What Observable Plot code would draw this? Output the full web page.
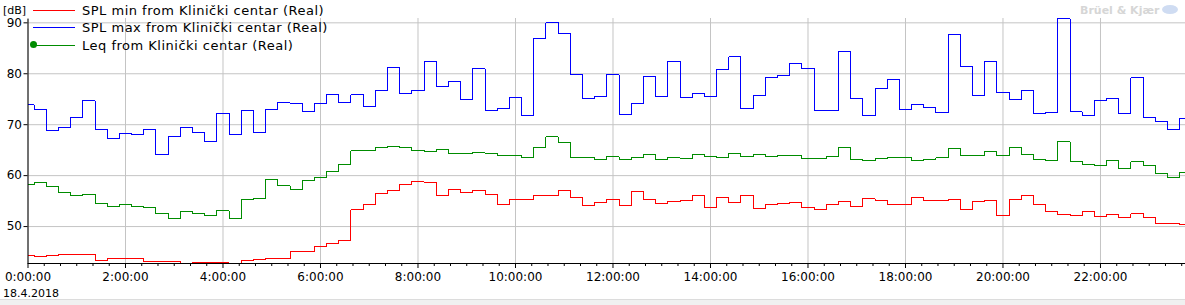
<!DOCTYPE html>
<html>
<head>
<meta charset="utf-8">
<script src="https://cdn.jsdelivr.net/npm/d3@7"></script>
<script src="https://cdn.jsdelivr.net/npm/@observablehq/plot@0.6"></script>
<style>
  html, body { margin: 0; padding: 0; background: #fff; }
  #wrap { position: relative; width: 1185px; height: 305px; overflow: hidden; background: #fff; }
  .ov { position: absolute; font-family: "DejaVu Sans", sans-serif; font-size: 11px; color: #000; white-space: nowrap; line-height: 1; }
  .lg { position: absolute; height: 0; border-top: 1px solid; width: 42px; left: 33px; }
  #foot { position: absolute; left: 0; top: 299px; width: 1185px; height: 6px; background: #f0f0f0; border-top: 1px solid #dcdcdc; }
</style>
</head>
<body>
<div id="wrap"></div>
<script>
// 15-minute intervals starting 18.4.2018 0:00:00
const startDate = "2018-04-18T00:00:00Z";
const intervalMinutes = 15;

const splMin = [44.4,44.2,44.4,44.6,44.6,44.6,43.4,43.7,43.7,43.7,43.1,43.1,43.1,42.75,42.9,42.9,
  42.9,42.75,43.3,43.5,43.7,43.7,45.1,45.1,46.1,46.7,47.3,53.3,54.3,56.5,57.1,58.2,
  58.8,58.6,56.1,57.3,56.7,57.1,56.3,54.3,55.3,55.3,56.1,56.1,57.1,55.7,54.1,54.7,
  55.3,54.1,56.9,55.4,54.5,54.9,55.1,56.1,53.7,55.7,54.7,56.1,53.5,54.3,54.5,54.7,
  53.7,53.3,54.3,54.9,53.9,55.5,55.1,54.3,54.3,55.7,55.1,55.1,55.3,53.3,54.9,55.1,
  52.2,55.3,56.1,54.3,52.9,52.4,52.2,52.9,52.0,52.4,51.8,52.5,51.8,50.6,50.6,50.4];

const splMax = [73.9,72.9,68.8,69.4,71.4,74.7,69.0,67.3,68.3,68.1,69.0,64.1,67.6,69.4,68.4,66.7,
  72.2,68.1,72.7,68.4,72.9,74.3,74.1,72.5,74.1,75.9,74.3,75.9,73.5,76.7,81.2,76.1,
  76.7,82.5,77.5,78.4,74.9,81.0,72.7,73.1,75.3,71.8,86.9,90.0,88.0,79.8,75.1,75.5,
  79.8,72.0,74.1,79.4,75.5,82.4,75.3,76.1,75.5,80.8,83.3,73.1,75.7,79.2,79.6,82.0,
  81.0,72.7,72.7,84.3,75.1,71.8,77.1,78.8,72.9,73.9,73.3,72.4,87.8,81.4,75.7,82.5,
  76.3,74.9,76.7,72.2,72.4,90.8,72.5,71.8,74.7,75.1,72.2,79.2,71.4,70.6,69.0,71.2];

const leq = [58.2,58.6,57.8,56.7,56.1,56.3,54.5,53.9,54.3,53.9,53.7,52.5,51.6,52.9,52.5,52.2,
  53.1,51.6,55.3,55.5,59.2,58.0,57.3,59.0,59.6,60.8,62.2,64.9,64.9,65.5,65.7,65.5,
  64.9,64.8,65.1,64.4,64.4,64.5,64.3,63.9,63.9,63.5,65.5,67.6,66.5,63.5,63.5,63.1,
  63.7,63.1,63.5,64.1,63.1,63.5,63.3,64.1,63.7,63.5,64.3,63.7,64.1,63.7,63.9,63.9,
  63.3,63.3,63.7,65.5,63.1,62.9,63.3,63.5,63.5,62.9,63.1,63.5,65.3,63.9,63.9,64.7,
  63.9,65.5,64.1,63.1,62.9,66.7,62.7,62.2,62.0,62.9,61.4,62.7,62.0,60.4,59.6,60.6];

const seriesNames = ["SPL min from Klinički centar (Real)", "SPL max from Klinički centar (Real)", "Leq from Klinički centar (Real)"];
const seriesColors = ["#ff0000", "#0000ff", "#008c00"];
const yTicks = [50, 60, 70, 80, 90];
const dateLabel = "18.4.2018";
const unitLabel = "[dB]";
const brand = "Brüel & Kjær";

const t0 = new Date(startDate);
const times = splMin.map((_, i) => new Date(+t0 + i * intervalMinutes * 60000));
const rows = (vals) => vals.map((v, i) => ({time: times[i], value: v}));
const xEnd = new Date(+t0 + 23.744 * 3600000);
const majorTicks = d3.utcHour.every(2).range(t0, xEnd);
const minorTicks = d3.utcMinute.every(20).range(t0, xEnd).filter(d => d.getUTCMinutes() !== 0 || d.getUTCHours() % 2 !== 0);
const yMin = 42.75, yMax = 90.85;

const chart = Plot.plot({
  width: 1185,
  height: 299,
  marginLeft: 27.5,
  marginRight: 0,
  marginTop: 18,
  marginBottom: 36,
  style: {fontFamily: "DejaVu Sans, sans-serif", fontSize: "12px", color: "#000", background: "#fff", overflow: "visible"},
  x: {type: "utc", domain: [t0, xEnd]},
  y: {domain: [yMin, yMax]},
  marks: [
    Plot.gridY(yTicks, {stroke: "#c4c4c4", strokeOpacity: 1}),
    Plot.gridX(majorTicks, {stroke: "#c4c4c4", strokeOpacity: 1}),
    Plot.line(rows(splMin), {x: "time", y: "value", curve: "step", stroke: seriesColors[0], strokeWidth: 1, shapeRendering: "crispEdges"}),
    Plot.line(rows(splMax), {x: "time", y: "value", curve: "step", stroke: seriesColors[1], strokeWidth: 1, shapeRendering: "crispEdges"}),
    Plot.line(rows(leq), {x: "time", y: "value", curve: "step", stroke: seriesColors[2], strokeWidth: 1, shapeRendering: "crispEdges"}),
    Plot.ruleY([yMin], {stroke: "#000"}),
    Plot.ruleX([t0], {y1: yMin, y2: 90.7, stroke: "#000"}),
    Plot.axisX(majorTicks, {tickSize: 5, tickPadding: 4, tickFormat: d3.utcFormat("%-H:%M:%S"), label: null, stroke: "#000"}),
    Plot.axisX(minorTicks, {tickSize: 3, tickFormat: () => "", label: null, stroke: "#000"}),
    Plot.axisY(yTicks, {tickSize: 4, tickPadding: 2, label: null, stroke: "#000"})
  ]
});

const wrap = document.getElementById("wrap");
wrap.appendChild(chart);

function addText(txt, left, top, extra) {
  const d = document.createElement("div");
  d.className = "ov";
  d.textContent = txt;
  d.style.left = left + "px";
  d.style.top = top + "px";
  if (extra) Object.assign(d.style, extra);
  wrap.appendChild(d);
  return d;
}
addText(unitLabel, 3, 5, {fontSize: "11px"});
seriesNames.forEach((name, i) => {
  const y = 10 + i * 17.3;
  const l = document.createElement("div");
  l.className = "lg";
  l.style.top = Math.round(y) + "px";
  l.style.borderColor = seriesColors[i];
  wrap.appendChild(l);
  addText(name, 82, Math.round(y) - 6, {fontSize: "13px", letterSpacing: "0.5px"});
});
const mk = document.createElement("div");
mk.style.cssText = "position:absolute;left:30px;top:41px;width:7px;height:7px;border-radius:50%;background:" + seriesColors[2];
wrap.appendChild(mk);
addText(dateLabel, 3, 288, {fontSize: "11px"});
addText(brand, 1080, 5, {fontSize: "11px", fontWeight: "bold", color: "#d6d6d6"});
const logo = document.createElement("div");
logo.style.cssText = "position:absolute;left:1162px;top:5px;width:16px;height:9px;border-radius:50%;background:#cfdcf2";
wrap.appendChild(logo);
const foot = document.createElement("div");
foot.id = "foot";
wrap.appendChild(foot);
</script>
</body>
</html>
